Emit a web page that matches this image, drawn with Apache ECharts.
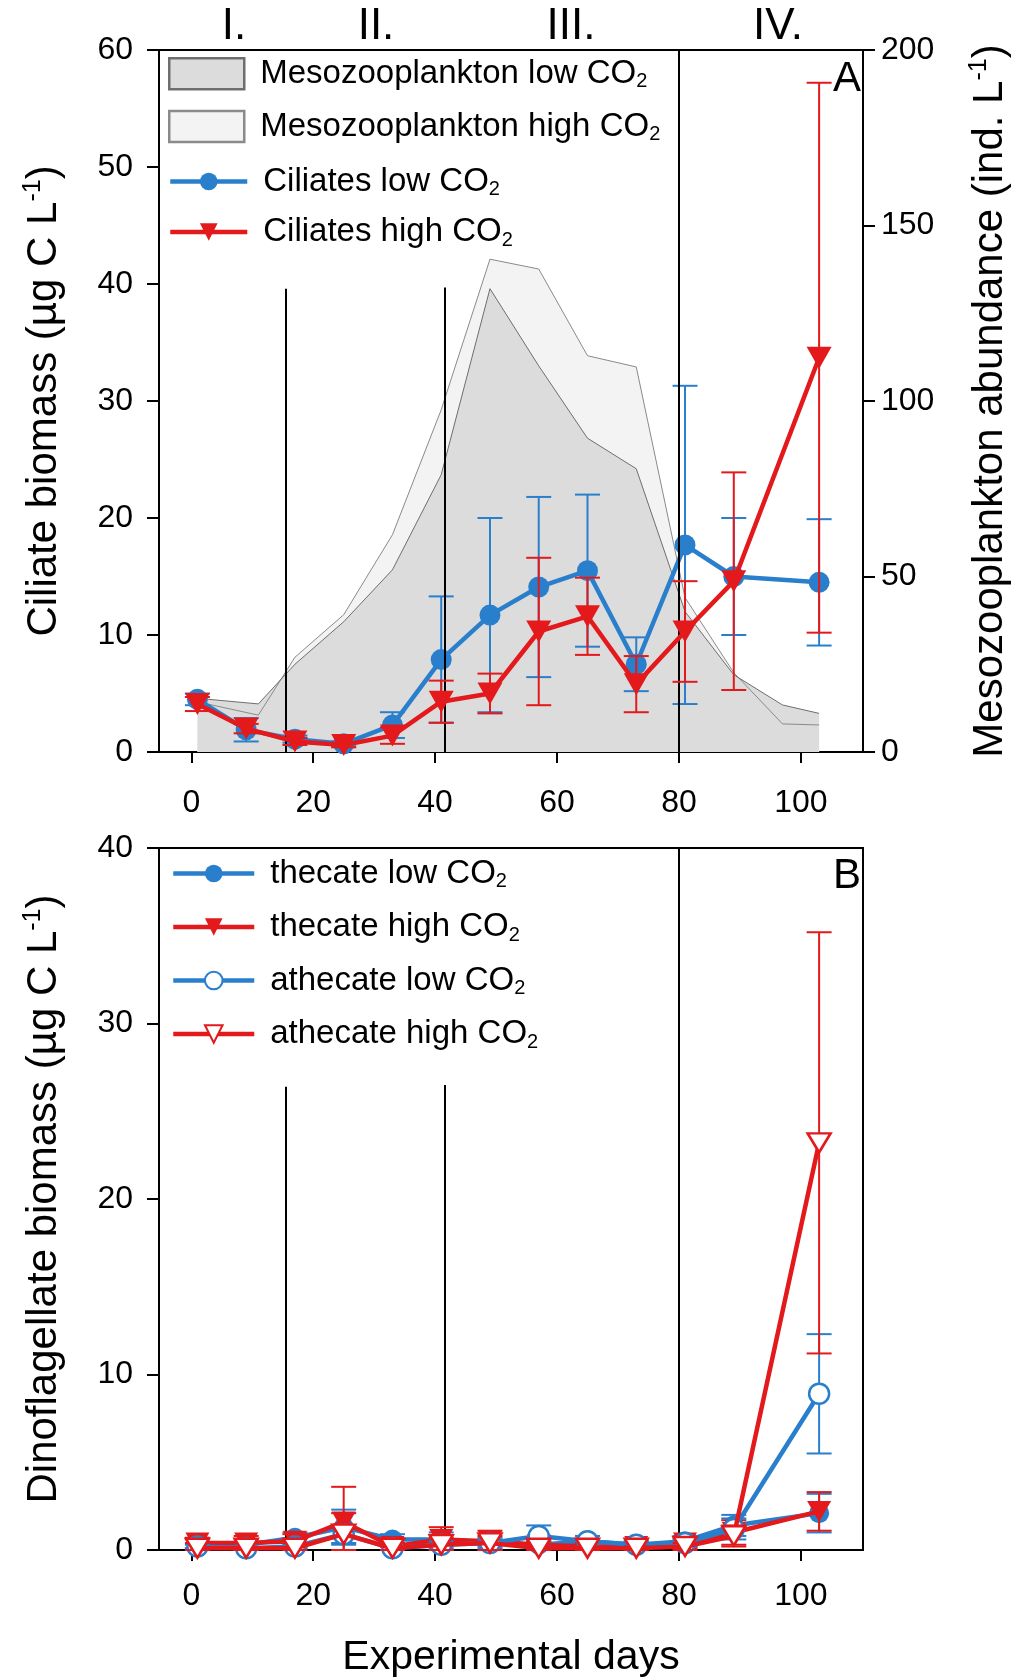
<!DOCTYPE html>
<html>
<head>
<meta charset="utf-8">
<script src="https://cdn.jsdelivr.net/npm/echarts@6/dist/echarts.min.js"></script>
<style>
html, body { margin: 0; padding: 0; background: #fff; }
#chart { width: 1029px; height: 1680px; }
</style>
</head>
<body>
<div id="chart"></div>
<script>
// sampling days
var days = [1, 9, 17, 25, 33, 41, 49, 57, 65, 73, 81, 89, 103];
var xTicks = [0, 20, 40, 60, 80, 100];

// panel A - ciliates (µg C/L), mean and error
var ciliatesLow = [4.5, 1.9, 1.1, 0.7, 2.3, 7.9, 11.7, 14.1, 15.5, 7.5, 17.7, 15.0, 14.5];
var ciliatesLowErr = [0.5, 1.0, 0.3, 0.2, 1.1, 5.4, 8.3, 7.7, 6.5, 2.3, 13.6, 5.0, 5.4];
var ciliatesHigh = [4.1, 2.0, 0.9, 0.6, 1.4, 4.3, 5.0, 10.3, 11.6, 5.8, 10.3, 14.6, 33.7];
var ciliatesHighErr = [0.6, 0.4, 0.3, 0.2, 0.7, 1.8, 1.7, 6.3, 3.3, 2.4, 4.3, 9.3, 23.5];

// panel A - mesozooplankton abundance (ind./L), right axis
var mesoDays = [1, 11, 17, 25, 33, 41, 49, 57, 65, 73, 81, 89, 97, 103];
var mesoLow = [15.3, 13.7, 25, 37.1, 51.9, 79, 132, 110, 89.4, 80.7, 40, 22, 13.4, 11.0];
var mesoHigh = [14.3, 10.5, 27, 39.1, 61.9, 97.5, 140.4, 137.6, 112.9, 109.7, 44, 22.6, 8.0, 7.7];

// panel B - dinoflagellates (µg C/L)
var thecateLow = [0.3, 0.3, 0.7, 1.3, 0.6, 0.6, 0.4, 0.3, 0.5, 0.3, 0.5, 1.4, 2.1];
var thecateLowErr = [0.3, 0.3, 0.3, 1.0, 0.3, 0.4, 0.3, 0.2, 0.3, 0.2, 0.3, 0.6, 1.1];
var thecateHigh = [0.4, 0.4, 0.5, 1.6, 0.2, 0.6, 0.5, 0.3, 0.2, 0.2, 0.4, 1.0, 2.2];
var thecateHighErr = [0.3, 0.4, 0.4, 2.0, 0.2, 0.7, 0.6, 0.2, 0.2, 0.2, 0.3, 0.7, 1.1];
var athecateLow = [0.2, 0.1, 0.2, 0.9, 0.1, 0.3, 0.4, 0.8, 0.5, 0.3, 0.4, 1.2, 8.9];
var athecateLowErr = [0.1, 0.1, 0.1, 0.5, 0.1, 0.2, 0.2, 0.6, 0.3, 0.2, 0.2, 0.6, 3.4];
var athecateHigh = [0.1, 0.1, 0.1, 0.9, 0.1, 0.3, 0.4, 0.1, 0.1, 0.1, 0.2, 0.8, 23.2];
var athecateHighErr = [0.3, 0.3, 0.3, 1.2, 0.1, 0.4, 0.4, 0.1, 0.1, 0.1, 0.2, 0.6, 12.0];

// phase boundaries (days) and how high the lines reach in each panel
var phaseDays = [15.5, 41.5, 80];
var phaseTopA = [39.6, 39.7, 60];
var phaseTopB = [26.4, 26.5, 40];

var FONT = '"Liberation Sans", Arial, sans-serif';
var BLUE = '#2a7fcc';
var RED = '#e3191c';
var TRI = 'path://M0,0L10,0L5,9Z';

var chart = echarts.init(document.getElementById('chart'), null, {renderer: 'canvas'});

function pairs(xs, ys) {
    return xs.map(function (x, i) { return [x, ys[i]]; });
}

function renderErr(params, api) {
    var x = api.value(0);
    var lo = api.coord([x, api.value(1)]);
    var hi = api.coord([x, api.value(2)]);
    var st = {stroke: api.visual('color'), lineWidth: 2};
    var w = 12.5;
    return {
        type: 'group',
        children: [
            {type: 'line', shape: {x1: lo[0], y1: lo[1], x2: hi[0], y2: hi[1]}, style: st},
            {type: 'line', shape: {x1: lo[0] - w, y1: lo[1], x2: lo[0] + w, y2: lo[1]}, style: st},
            {type: 'line', shape: {x1: hi[0] - w, y1: hi[1], x2: hi[0] + w, y2: hi[1]}, style: st}
        ]
    };
}

function errSeries(gi, yi, color, vals, errs, z) {
    return {
        type: 'custom',
        xAxisIndex: gi,
        yAxisIndex: yi,
        silent: true,
        z: z,
        itemStyle: {color: color},
        renderItem: renderErr,
        encode: {x: 0, y: [1, 2]},
        data: days.map(function (d, i) {
            return [d, Math.max(0, vals[i] - errs[i]), vals[i] + errs[i]];
        })
    };
}

function phaseLines(tops) {
    return {
        silent: true,
        symbol: ['none', 'none'],
        label: {show: false},
        lineStyle: {color: '#000', width: 2, type: 'solid'},
        data: phaseDays.map(function (d, i) {
            return [{coord: [d, 0]}, {coord: [d, tops[i]]}];
        })
    };
}

function xAxisCfg(gi, margin, withName) {
    var ax = {
        type: 'value',
        gridIndex: gi,
        min: -5.3,
        max: 110.2,
        axisLine: {onZero: false, lineStyle: {color: '#000', width: 2}},
        axisTick: {length: 11, lineStyle: {color: '#000', width: 2}, customValues: xTicks},
        axisLabel: {customValues: xTicks, color: '#000', fontSize: 32, fontFamily: FONT, margin: margin},
        splitLine: {show: false}
    };
    if (withName) {
        ax.name = 'Experimental days';
        ax.nameLocation = 'middle';
        ax.nameGap = 86;
        ax.nameTextStyle = {fontSize: 41, fontFamily: FONT, color: '#000', lineHeight: 44};
    }
    return ax;
}

function yAxisCfg(gi, max, interval, pos, name, gap) {
    return {
        type: 'value',
        gridIndex: gi,
        position: pos,
        min: 0,
        max: max,
        interval: interval,
        axisLine: {show: true, onZero: false, lineStyle: {color: '#000', width: 2}},
        axisTick: {show: true, length: 12, lineStyle: {color: '#000', width: 2}},
        axisLabel: {color: '#000', fontSize: 32, fontFamily: FONT, margin: pos === 'left' ? 26 : 18},
        splitLine: {show: false},
        name: name,
        nameLocation: 'middle',
        nameRotate: 90,
        nameGap: gap,
        nameTextStyle: {
            fontSize: 42, fontFamily: FONT, color: '#000', lineHeight: 46,
            rich: {sup: {fontSize: 25, lineHeight: 25, verticalAlign: 'top', fontFamily: FONT, color: '#000'}}
        }
    };
}

var legendText = {
    fontFamily: FONT,
    color: '#000',
    padding: [0, 0, 0, 11],
    rich: {
        t: {fontSize: 33, lineHeight: 36, fontFamily: FONT, color: '#000'},
        s: {fontSize: 20, lineHeight: 10, verticalAlign: 'bottom', fontFamily: FONT, color: '#000'}
    }
};
function legendFmt(name) {
    return '{t|' + name.slice(0, -1) + '}{s|2}';
}
var legendLine = {width: 4.5};

chart.setOption({
    animation: false,
    backgroundColor: '#fff',
    grid: [
        {left: 159, top: 50, width: 704, height: 702, show: true, borderColor: '#000', borderWidth: 2, outerBoundsMode: 'none'},
        {left: 159, top: 848, width: 704, height: 702, show: true, borderColor: '#000', borderWidth: 2, outerBoundsMode: 'none'}
    ],
    xAxis: [xAxisCfg(0, 35, false), xAxisCfg(1, 30, true)],
    yAxis: [
        yAxisCfg(0, 60, 10, 'left', 'Ciliate biomass (µg C L{sup|-1})', 92),
        yAxisCfg(0, 200, 50, 'right', 'Mesozooplankton abundance (ind. L{sup|-1})', 104),
        yAxisCfg(1, 40, 10, 'left', 'Dinoflagellate biomass (µg C L{sup|-1})', 92)
    ],
    legend: [
        {
            data: [
                {name: 'Mesozooplankton low CO2', icon: 'rect', itemStyle: {color: '#dcdcdc', borderColor: '#6e6e6e', borderWidth: 2.5}},
                {name: 'Mesozooplankton high CO2', icon: 'rect', itemStyle: {color: '#f3f3f3', borderColor: '#8a8a8a', borderWidth: 2.5}}
            ],
            orient: 'vertical', left: 168, top: 57, padding: 0,
            itemWidth: 75, itemHeight: 31, itemGap: 18,
            selectedMode: false, formatter: legendFmt, textStyle: legendText
        },
        {
            data: ['Ciliates low CO2', 'Ciliates high CO2'],
            orient: 'vertical', left: 168, top: 165, padding: 0,
            itemWidth: 77, itemHeight: 22, itemGap: 16, lineStyle: legendLine,
            selectedMode: false, formatter: legendFmt, textStyle: legendText
        },
        {
            data: ['thecate low CO2', 'thecate high CO2', 'athecate low CO2', 'athecate high CO2'],
            orient: 'vertical', left: 171, top: 857, padding: 0,
            itemWidth: 81, itemHeight: 22, itemGap: 19, lineStyle: legendLine,
            selectedMode: false, formatter: legendFmt, textStyle: legendText
        }
    ],
    graphic: [
        {type: 'text', x: 234, y: 27, style: {text: 'I.', fontSize: 44, fontFamily: FONT, fill: '#000', align: 'center', verticalAlign: 'middle'}},
        {type: 'text', x: 376, y: 27, style: {text: 'II.', fontSize: 44, fontFamily: FONT, fill: '#000', align: 'center', verticalAlign: 'middle'}},
        {type: 'text', x: 571, y: 27, style: {text: 'III.', fontSize: 44, fontFamily: FONT, fill: '#000', align: 'center', verticalAlign: 'middle'}},
        {type: 'text', x: 778, y: 27, style: {text: 'IV.', fontSize: 44, fontFamily: FONT, fill: '#000', align: 'center', verticalAlign: 'middle'}},
        {type: 'text', x: 861, y: 79, style: {text: 'A', fontSize: 42, fontFamily: FONT, fill: '#000', align: 'right', verticalAlign: 'middle'}},
        {type: 'text', x: 861, y: 876, style: {text: 'B', fontSize: 42, fontFamily: FONT, fill: '#000', align: 'right', verticalAlign: 'middle'}}
    ],
    series: [
        // mesozooplankton areas (right axis)
        {
            name: 'Mesozooplankton high CO2', type: 'line', xAxisIndex: 0, yAxisIndex: 1,
            data: pairs(mesoDays, mesoHigh), symbol: 'none', z: 1,
            itemStyle: {color: '#f3f3f3'},
            lineStyle: {color: '#8a8a8a', width: 1},
            areaStyle: {color: '#f3f3f3', opacity: 1}
        },
        {
            name: 'Mesozooplankton low CO2', type: 'line', xAxisIndex: 0, yAxisIndex: 1,
            data: pairs(mesoDays, mesoLow), symbol: 'none', z: 1,
            itemStyle: {color: '#dcdcdc'},
            lineStyle: {color: '#6e6e6e', width: 1},
            areaStyle: {color: '#dcdcdc', opacity: 1}
        },
        // ciliates
        Object.assign(errSeries(0, 0, BLUE, ciliatesLow, ciliatesLowErr, 3), {markLine: phaseLines(phaseTopA)}),
        {
            name: 'Ciliates low CO2', type: 'line', xAxisIndex: 0, yAxisIndex: 0,
            data: pairs(days, ciliatesLow), symbol: 'circle', symbolSize: 21, z: 4,
            itemStyle: {color: BLUE}, lineStyle: {color: BLUE, width: 4.5}
        },
        errSeries(0, 0, RED, ciliatesHigh, ciliatesHighErr, 5),
        {
            name: 'Ciliates high CO2', type: 'line', xAxisIndex: 0, yAxisIndex: 0,
            data: pairs(days, ciliatesHigh), symbol: TRI, symbolSize: [25, 22], z: 6,
            itemStyle: {color: RED}, lineStyle: {color: RED, width: 4.5}
        },
        // dinoflagellates
        Object.assign(errSeries(1, 2, BLUE, thecateLow, thecateLowErr, 3), {markLine: phaseLines(phaseTopB)}),
        {
            name: 'thecate low CO2', type: 'line', xAxisIndex: 1, yAxisIndex: 2,
            data: pairs(days, thecateLow), symbol: 'circle', symbolSize: 20, z: 4,
            itemStyle: {color: BLUE}, lineStyle: {color: BLUE, width: 4.5}
        },
        errSeries(1, 2, RED, thecateHigh, thecateHighErr, 5),
        {
            name: 'thecate high CO2', type: 'line', xAxisIndex: 1, yAxisIndex: 2,
            data: pairs(days, thecateHigh), symbol: TRI, symbolSize: [24, 21], z: 6,
            itemStyle: {color: RED}, lineStyle: {color: RED, width: 4.5}
        },
        errSeries(1, 2, BLUE, athecateLow, athecateLowErr, 7),
        {
            name: 'athecate low CO2', type: 'line', xAxisIndex: 1, yAxisIndex: 2,
            data: pairs(days, athecateLow), symbol: 'circle', symbolSize: 20, z: 8,
            itemStyle: {color: '#fff', borderColor: BLUE, borderWidth: 2.5},
            lineStyle: {color: BLUE, width: 4.5}
        },
        errSeries(1, 2, RED, athecateHigh, athecateHighErr, 9),
        {
            name: 'athecate high CO2', type: 'line', xAxisIndex: 1, yAxisIndex: 2,
            data: pairs(days, athecateHigh), symbol: TRI, symbolSize: [23, 19], z: 10,
            itemStyle: {color: '#fff', borderColor: RED, borderWidth: 2.5},
            lineStyle: {color: RED, width: 4.5}
        }
    ]
});
</script>
</body>
</html>
